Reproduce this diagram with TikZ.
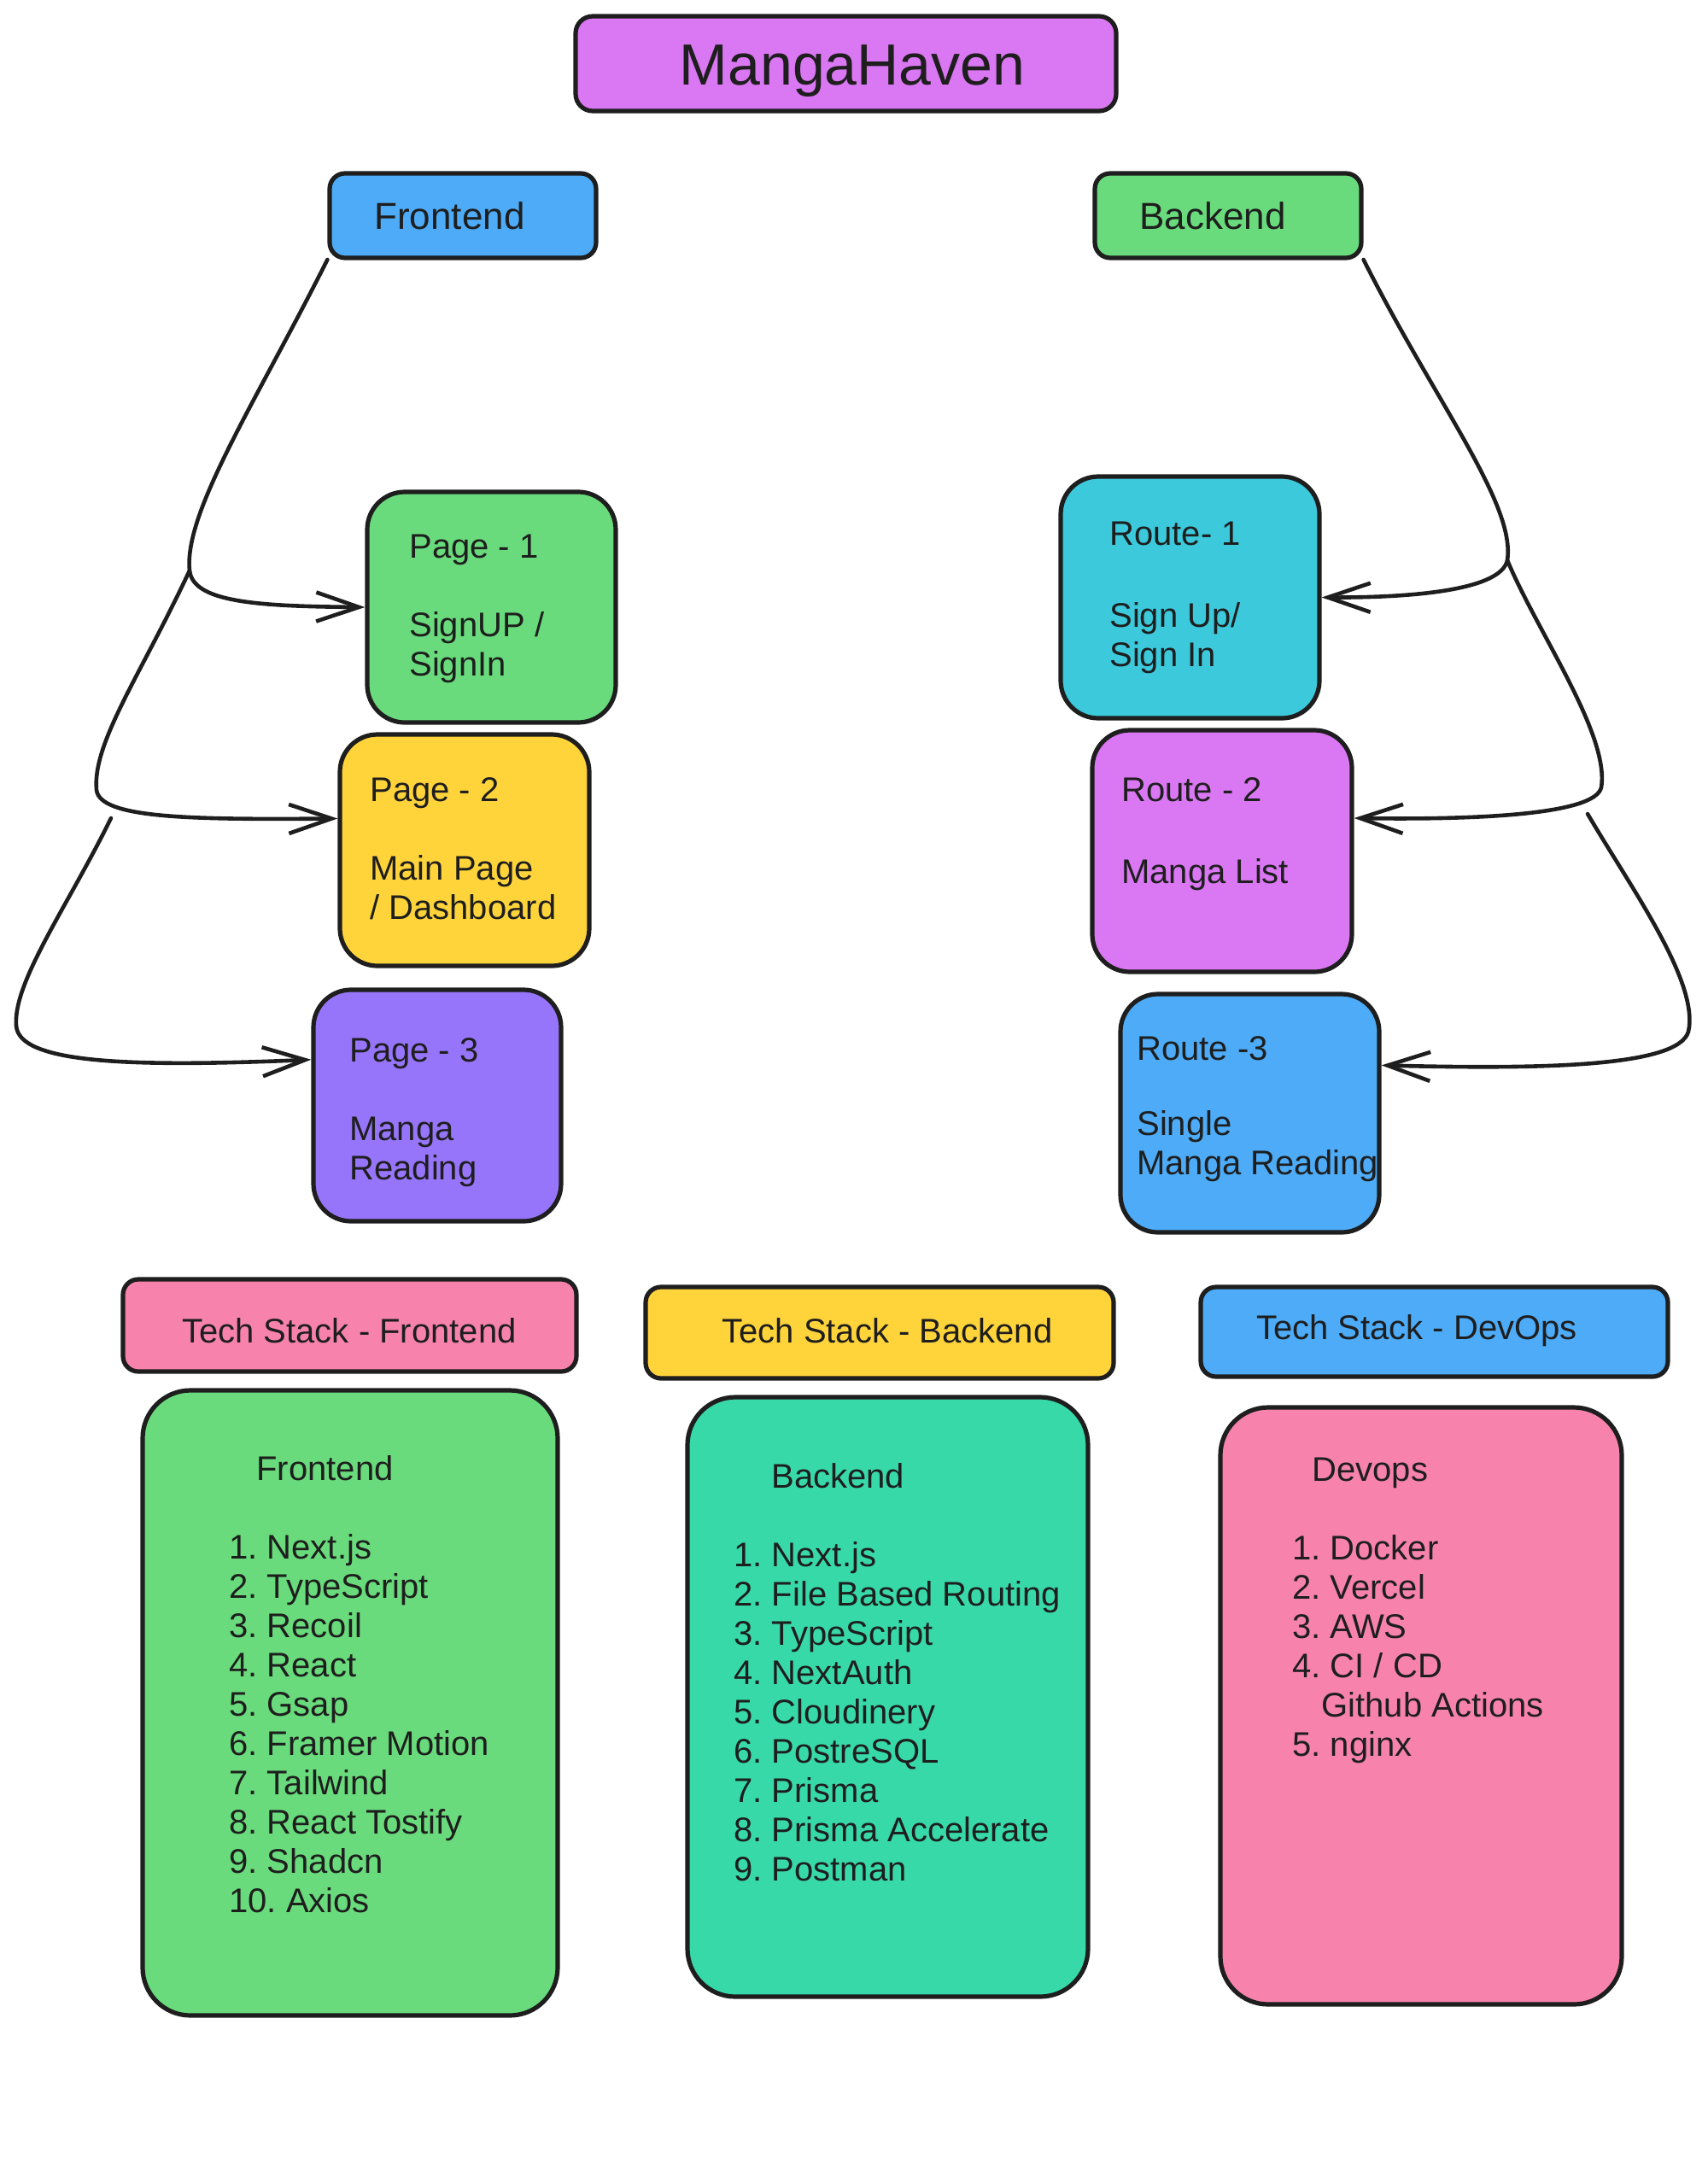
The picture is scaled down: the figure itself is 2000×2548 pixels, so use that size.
\documentclass[tikz,border=0pt]{standalone}
\usepackage{fontspec}
\setmainfont{Liberation Sans}
\usetikzlibrary{arrows.meta}
\definecolor{ink}{HTML}{1E1E1E}
\definecolor{cviolet}{HTML}{DA77F2}
\definecolor{cblue}{HTML}{4DABF7}
\definecolor{cgreen}{HTML}{69DB7C}
\definecolor{cyellow}{HTML}{FFD43B}
\definecolor{cpurple}{HTML}{9775FA}
\definecolor{ccyan}{HTML}{3BC9DB}
\definecolor{cpink}{HTML}{F783AC}
\definecolor{cteal}{HTML}{38D9A9}
\frenchspacing
\begin{document}
\begin{tikzpicture}[x=0.5pt,y=-0.5pt,
  box/.style={draw=ink, line width=2.6pt, rounded corners=22pt, inner sep=0pt},
  hbox/.style={box, rounded corners=9pt},
  lbox/.style={box, rounded corners=28pt},
  txt/.style={text=ink, inner sep=0pt, align=left, font=\fontsize{20}{23}\selectfont\frenchspacing, anchor=north west},
  conn/.style={draw=ink, line width=2.3pt, line cap=round, line join=round},
  arr/.style={conn, -{Straight Barb[length=25pt,width=17pt]}}]
\useasboundingbox (0,0) rectangle (2000,2548);

% title
\node[hbox, fill=cviolet, rounded corners=10pt, minimum width=316.5pt, minimum height=55.5pt] (title) at (990.5,74.5) {};
\node[txt, anchor=base, font=\fontsize{34}{40}\selectfont] (titletext) at (998,99) {MangaHaven};

% headers
\node[hbox, fill=cblue, minimum width=156pt, minimum height=49.5pt] (fe) at (542,252.5) {};
\node[txt, anchor=west, font=\fontsize{22}{26}\selectfont] (fetext) at (438,253) {Frontend};
\node[hbox, fill=cgreen, minimum width=156pt, minimum height=49.5pt] (be) at (1438,252.5) {};
\node[txt, anchor=west, font=\fontsize{22}{26}\selectfont] (betext) at (1334,253) {Backend};

% pages
\node[box, fill=cgreen, minimum width=145.5pt, minimum height=135pt] (p1) at (575.5,711) {};
\node[txt] (p1text) at (479,626) {Page - 1\\[23pt]SignUP /\\SignIn};
\node[box, fill=cyellow, minimum width=146pt, minimum height=135.5pt] (p2) at (544,995.5) {};
\node[txt] (p2text) at (433,910) {Page - 2\\[23pt]Main Page\\/ Dashboard};
\node[box, fill=cpurple, minimum width=145pt, minimum height=135.5pt] (p3) at (512,1294.5) {};
\node[txt] (p3text) at (409,1215) {Page - 3\\[23pt]Manga\\Reading};

% routes
\node[box, fill=ccyan, minimum width=151.5pt, minimum height=141.5pt] (r1) at (1393.5,699.5) {};
\node[txt] (r1text) at (1299,611) {Route- 1\\[25pt]Sign Up/\\Sign In};
\node[box, fill=cviolet, minimum width=152pt, minimum height=141.5pt] (r2) at (1431,996.5) {};
\node[txt] (r2text) at (1313,910) {Route - 2\\[25pt]Manga List};
\node[box, fill=cblue, minimum width=151.5pt, minimum height=139.5pt] (r3) at (1463.5,1303.5) {};
\node[txt] (r3text) at (1331,1213) {Route -3\\[21pt]Single\\Manga Reading};

% tech stack headers
\node[hbox, fill=cpink, minimum width=265.5pt, minimum height=54pt] (tsf) at (409.5,1552) {};
\node[txt, anchor=base] (tsftext) at (409,1572) {Tech Stack - Frontend};
\node[hbox, fill=cyellow, minimum width=274pt, minimum height=53.5pt] (tsb) at (1030,1560.5) {};
\node[txt, anchor=base] (tsbtext) at (1039,1572) {Tech Stack - Backend};
\node[hbox, fill=cblue, minimum width=273.5pt, minimum height=52.5pt] (tsd) at (1679.5,1559.5) {};
\node[txt, anchor=base] (tsdtext) at (1659,1568) {Tech Stack - DevOps};

% lists
\node[lbox, fill=cgreen, minimum width=243pt, minimum height=366pt] (lf) at (410,1994) {};
\node[txt] (lftext) at (268,1704) {\hspace*{16pt}Frontend\\[23pt]1. Next.js\\2. TypeScript\\3. Recoil\\4. React\\5. Gsap\\6. Framer Motion\\7. Tailwind\\8. React Tostify\\9. Shadcn\\10. Axios};
\node[lbox, fill=cteal, minimum width=234.5pt, minimum height=351pt] (lb) at (1039.5,1987) {};
\node[txt] (lbtext) at (859,1713) {\hspace*{22pt}Backend\\[23pt]1. Next.js\\2. File Based Routing\\3. TypeScript\\4. NextAuth\\5. Cloudinery\\6. PostreSQL\\7. Prisma\\8. Prisma Accelerate\\9. Postman};
\node[lbox, fill=cpink, minimum width=235pt, minimum height=349.5pt] (ld) at (1664,1997.5) {};
\node[txt] (ldtext) at (1513,1707) {\hspace*{11.5pt}Devops\\[23pt]1. Docker\\2. Vercel\\3. AWS\\4. CI / CD\\\hspace*{17pt}Github Actions\\5. nginx};

% connectors
\coordinate (fb1) at (222,668);
\coordinate (fb2) at (130,958);
\coordinate (bb1) at (1765,656);
\coordinate (bb2) at (1859,953);

\draw[arr] (fe.198) .. controls (300,470) and (215,600) .. (fb1) .. controls (226,705) and (300,710) .. (p1.west);
\draw[arr] (fb1) .. controls (165,790) and (108,870) .. (113,925) .. controls (117,958) and (220,960) .. (p2.166);
\draw[arr] (fb2) .. controls (80,1060) and (15,1150) .. (19,1201) .. controls (22,1245) and (150,1250) .. (p3.160);

\draw[arr] (be.-18) .. controls (1680,470) and (1775,590) .. (bb1) .. controls (1758,690) and (1660,700) .. (r1.east);
\draw[arr] (bb1) .. controls (1800,740) and (1885,860) .. (1875,922) .. controls (1868,955) and (1720,960) .. (r2.14);
\draw[arr] (bb2) .. controls (1910,1040) and (1990,1150) .. (1977,1208) .. controls (1965,1250) and (1800,1252) .. (r3.20);
\end{tikzpicture}
\end{document}
